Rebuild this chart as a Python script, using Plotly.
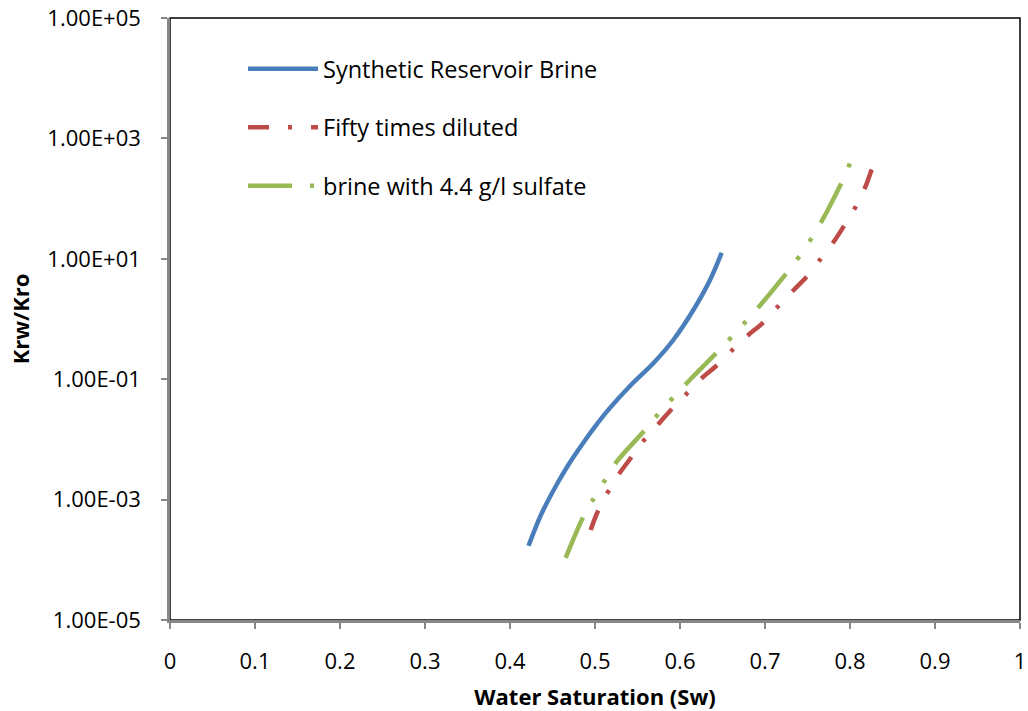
import plotly.graph_objects as go

# ---- data ----
sw_synthetic = [0.4218, 0.4294, 0.4373, 0.4451, 0.4568, 0.4686, 0.4844, 0.5000, 0.5156, 0.5420,
                0.5686, 0.5921, 0.6157, 0.6353, 0.6490]
kr_synthetic = [1.71e-4, 3.24e-4, 5.92e-4, 9.84e-4, 1.98e-3, 3.76e-3, 8.07e-3, 1.63e-2, 3.09e-2, 7.94e-2,
                0.184, 0.448, 1.41, 4.45, 12.6]

sw_diluted = [0.4949, 0.5020, 0.5141, 0.5282, 0.5404, 0.5565, 0.5745, 0.5882, 0.6071, 0.6262, 0.6415,
              0.6612, 0.6804, 0.6968, 0.7149, 0.7338, 0.7479, 0.7651, 0.7815, 0.7929, 0.8067, 0.8185, 0.8255]
kr_diluted = [3.13e-4, 5.77e-4, 1.25e-3, 2.66e-3, 4.55e-3, 9.29e-3, 1.80e-2, 2.96e-2, 5.61e-2, 0.106, 0.161,
              0.302, 0.542, 0.849, 1.60, 3.03, 4.85, 9.82, 19.8, 35.1, 73.3, 162, 307]

sw_sulfate = [0.4655, 0.4844, 0.4973, 0.5118, 0.5262, 0.5588, 0.5756, 0.5941, 0.6126, 0.6471, 0.6647,
              0.6832, 0.7008, 0.7314, 0.7471, 0.7615, 0.7745, 0.7961, 0.8047]
kr_sulfate = [1.08e-4, 4.58e-4, 9.84e-4, 2.12e-3, 4.38e-3, 1.43e-2, 2.78e-2, 5.32e-2, 0.101, 0.314, 0.578,
              1.12, 2.17, 7.40, 14.9, 31.6, 67.1, 280, 625]

series_names = ["Synthetic Reservoir Brine", "Fifty times diluted", "brine with 4.4 g/l sulfate"]

y_tickvals = [1e-5, 1e-3, 1e-1, 1e1, 1e3, 1e5]
y_ticktext = ["1.00E-05", "1.00E-03", "1.00E-01", "1.00E+01", "1.00E+03", "1.00E+05"]
x_tickvals = [0, 0.1, 0.2, 0.3, 0.4, 0.5, 0.6, 0.7, 0.8, 0.9, 1]
x_ticktext = ["0", "0.1", "0.2", "0.3", "0.4", "0.5", "0.6", "0.7", "0.8", "0.9", "1"]

FONT = "Open Sans"
AXIS_GREY = "#868686"

fig = go.Figure()
fig.add_trace(go.Scatter(x=sw_synthetic, y=kr_synthetic, mode="lines", name=series_names[0],
                         legendgroup="a",
                         line=dict(color="#4A7EBB", width=4.5, shape="spline", smoothing=1.0)))
fig.add_trace(go.Scatter(x=sw_diluted, y=kr_diluted, mode="lines", name=series_names[1],
                         legendgroup="b",
                         line=dict(color="#BE4B48", width=4.5, shape="spline", smoothing=0.8,
                                   dash="21px,19px,4px,19px")))
fig.add_trace(go.Scatter(x=sw_sulfate, y=kr_sulfate, mode="lines", name=series_names[2],
                         legendgroup="c",
                         line=dict(color="#98B954", width=4.5, shape="spline", smoothing=0.8,
                                   dash="44px,18px,4px,18px,4px,18px")))

fig.update_layout(
    width=1028, height=711,
    margin=dict(l=170, r=8, t=18, b=91, autoexpand=False),
    paper_bgcolor="white", plot_bgcolor="white",
    font=dict(family=FONT, size=20, color="#000000"),
    showlegend=True,
    legend=dict(x=0.0859, y=0.952, xanchor="left", yanchor="top",
                bgcolor="rgba(0,0,0,0)", tracegroupgap=25, itemwidth=70,
                font=dict(family=FONT, size=23.5, color="#000000")),
    shapes=[dict(type="rect", xref="paper", yref="paper", x0=0, x1=1, y0=0, y1=1,
                 line=dict(color="#000000", width=1.5), layer="below")],
)
fig.update_xaxes(range=[0, 1], tickvals=x_tickvals, ticktext=x_ticktext, automargin=False,
                 showgrid=False, zeroline=False, showline=True, linecolor=AXIS_GREY, linewidth=2.5,
                 ticks="outside", ticklen=6, tickcolor=AXIS_GREY, tickwidth=1.5,
                 ticklabelstandoff=14, ticklabeloverflow="allow", tickfont=dict(family=FONT, size=22),
                 title=dict(text="<b>Water Saturation (Sw)</b>", font=dict(family=FONT, size=22), standoff=16))
fig.update_yaxes(type="log", range=[-5, 5], tickvals=y_tickvals, ticktext=y_ticktext, automargin=False,
                 showgrid=False, zeroline=False, showline=True, linecolor=AXIS_GREY, linewidth=2.5,
                 ticks="outside", ticklen=6, tickcolor=AXIS_GREY, tickwidth=1.5,
                 ticklabelstandoff=16, ticklabeloverflow="allow", tickfont=dict(family=FONT, size=22),
                 title=dict(text="<b>Krw/Kro</b>", font=dict(family=FONT, size=22), standoff=12))

fig.write_html("out.html", config={"displayModeBar": False},
               post_script="document.body.style.margin='0';document.body.style.overflow='hidden';")
